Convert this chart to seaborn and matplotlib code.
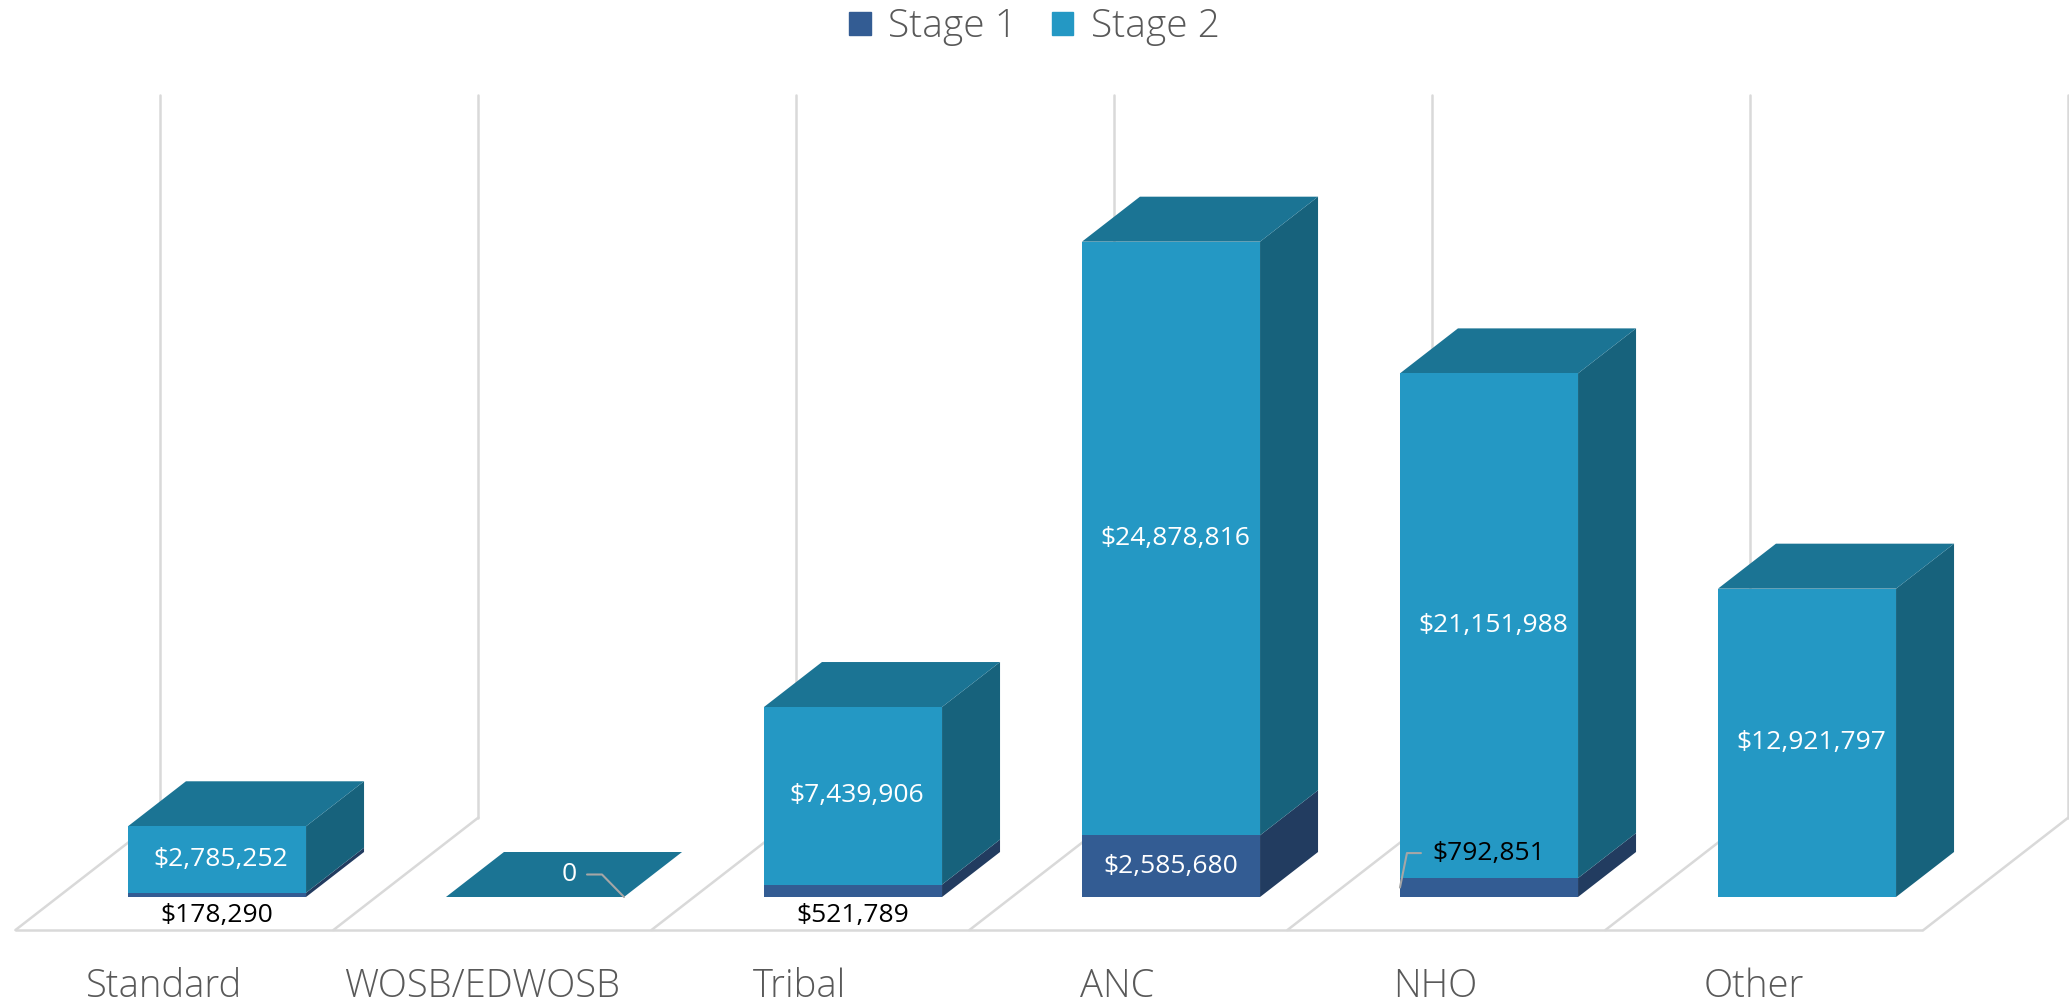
import numpy as np
import seaborn as sns
import matplotlib.pyplot as plt
from matplotlib.patches import Polygon, Patch

# data
categories = ['Standard', 'WOSB/EDWOSB', 'Tribal', 'ANC', 'NHO', 'Other']
stage1 = [178290, 0, 521789, 2585680, 792851, 0]
stage2 = [2785252, 0, 7439906, 24878816, 21151988, 12921797]
series_names = ['Stage 1', 'Stage 2']
# where the Stage 1 value label goes
stage1_label_mode = ['below', 'none', 'below', 'inside', 'leader', 'none']

# colours
c1_front, c1_side = '#335c93', '#223c60'
c2_front, c2_side, c2_top = '#2498c4', '#17627c', '#1b7494'
grid_c = '#d9d9d9'
text_c = '#595959'

W, H = 2069, 1005
sns.set_theme(style='white')
plt.rcParams['font.family'] = ['Open Sans', 'DejaVu Sans']
value_font = ['Open Sans', 'DejaVu Sans']
vsize = 19

fig = plt.figure(figsize=(W / 100, H / 100), dpi=100)
ax = fig.add_axes([0, 0, 1, 1])

totals = np.array(stage1) + np.array(stage2)
sns.barplot(x=categories, y=totals, color=c2_front, saturation=1, width=0.56,
            errorbar=None, ax=ax, zorder=3, linewidth=0)
sns.barplot(x=categories, y=stage1, color=c1_front, saturation=1, width=0.56,
            errorbar=None, ax=ax, zorder=4, linewidth=0)

# axis frame in pixel terms: 318 px per category, baseline 108 px from bottom
px_x = 1 / 318.0
px_y = 41910.0
ax.set_xlim(-217 * px_x, (W - 217) * px_x)
ax.set_ylim(-108 * px_y, (H - 108) * px_y)
ax.axis('off')

# 3d depth offset
dx, dy = 58 * px_x, 45 * px_y
t_front, t_back = -0.735, 1.765

# floor
n = len(categories)
fy0, fy1 = t_front * dy, t_back * dy
ax.plot([-0.5 + t_front * dx, n - 0.5 + t_front * dx], [fy0, fy0],
        color=grid_c, lw=1.8, zorder=1, solid_capstyle='butt')
for b in np.arange(n + 1) - 0.5:
    ax.plot([b + t_front * dx, b + t_back * dx], [fy0, fy1], color=grid_c, lw=1.8, zorder=1)
    ax.plot([b + t_back * dx, b + t_back * dx], [fy1, (H - 108 - 95) * px_y],
            color=grid_c, lw=1.8, zorder=1)

# side and top faces
bars = ax.patches[:n]
for i, p in enumerate(bars):
    x0, w = p.get_x(), p.get_width()
    xr = x0 + w
    segs = [(0, stage1[i], c1_side), (stage1[i], totals[i], c2_side)]
    for a, b, col in segs:
        if b > a:
            ax.add_patch(Polygon([(xr, a), (xr + dx, a + dy), (xr + dx, b + dy), (xr, b)],
                                 closed=True, fc=col, ec='none', zorder=2.5))
    top = totals[i]
    ax.add_patch(Polygon([(x0, top), (x0 + dx, top + dy), (xr + dx, top + dy), (xr, top)],
                         closed=True, fc=c2_top, ec='none', zorder=2.5))

# value labels
def money(v):
    return f'${v:,.0f}'

for i, p in enumerate(bars):
    xc = p.get_x() + p.get_width() / 2
    if totals[i] == 0:
        tx, ty = xc + dx / 2 + 5 * px_x, dy / 2
        ax.text(tx, ty, '0', color='white', ha='center', va='center',
                fontsize=vsize, family=value_font, zorder=6)
        xr = p.get_x() + p.get_width()
        ax.plot([tx + 18 * px_x, tx + 33 * px_x, xr], [ty, ty, 0],
                color='#a6a6a6', lw=1.5, zorder=6)
        continue
    if stage2[i] > 0:
        ax.text(xc + 4 * px_x, stage1[i] + stage2[i] / 2, money(stage2[i]), color='white',
                ha='center', va='center', fontsize=vsize, family=value_font, zorder=6)
    mode = stage1_label_mode[i]
    if mode == 'inside':
        ax.text(xc, stage1[i] / 2, money(stage1[i]), color='white',
                ha='center', va='center', fontsize=vsize, family=value_font, zorder=6)
    elif mode == 'below':
        ax.text(xc, -18 * px_y, money(stage1[i]), color='black',
                ha='center', va='center', fontsize=vsize, family=value_font, zorder=6)
    elif mode == 'leader':
        ly = stage1[i] + 25 * px_y
        ax.text(xc, ly, money(stage1[i]), color='black',
                ha='center', va='center', fontsize=vsize, family=value_font, zorder=6)
        x0 = p.get_x()
        ax.plot([x0, x0 + 7 * px_x, x0 + 21 * px_x], [stage1[i] / 2, ly, ly],
                color='#a6a6a6', lw=1.5, zorder=6)

# category labels
for i, cat in enumerate(categories):
    ax.text(i - 0.168, -90 * px_y, cat, color=text_c, ha='center', va='center',
            fontsize=27.5, fontweight='light')

handles = [Patch(color=c1_front), Patch(color=c2_front)]
fig.legend(handles, series_names, loc='center', bbox_to_anchor=(0.5, 1 - 27 / H),
           ncol=2, frameon=False, fontsize=28, labelcolor=text_c,
           prop={'size': 28, 'weight': 'light'},
           handlelength=0.55, handleheight=0.55, handletextpad=0.45, columnspacing=0.9)

fig.savefig('out.png', dpi=100)
